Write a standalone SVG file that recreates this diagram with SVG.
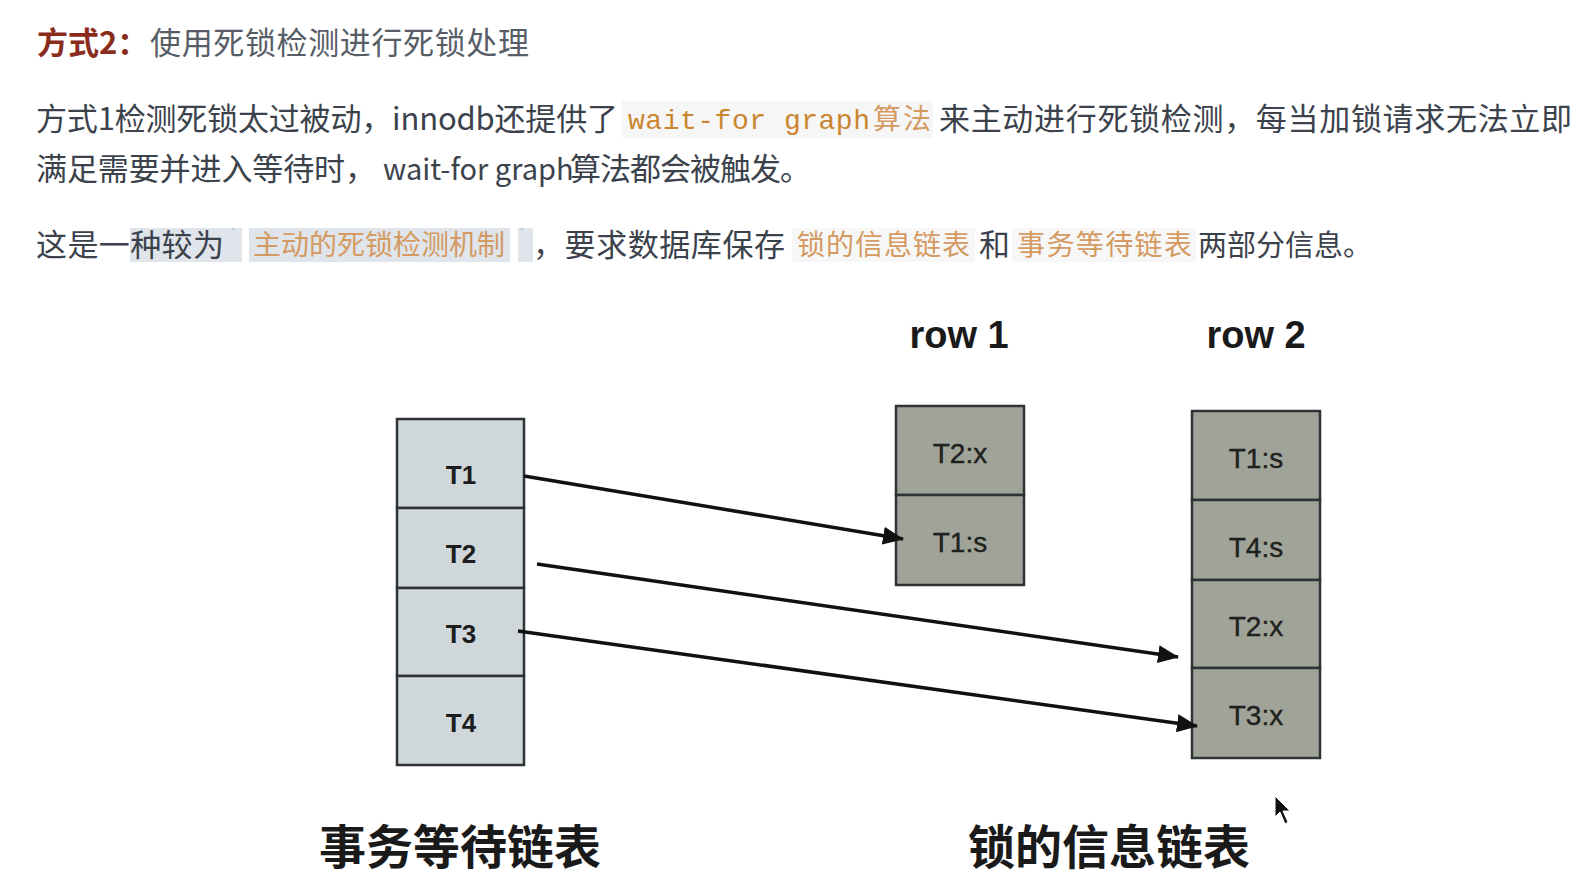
<svg xmlns="http://www.w3.org/2000/svg" width="1595" height="889" viewBox="0 0 1595 889">
<style>
.body{font-family:"Noto Sans CJK SC","Noto Sans",sans-serif;font-size:31px;fill:#3b424c}
.or{font-family:"Noto Sans CJK SC",sans-serif;font-size:28px;fill:#d49a62}
.code{font-family:"Liberation Mono","DejaVu Sans Mono",monospace;font-size:28px;fill:#c9852f}
.tick{font-family:"Liberation Mono",monospace;font-size:16px;fill:#aab0b6}
.cell-l{fill:#cfd7db;stroke:#2f3335;stroke-width:2.5}
.cell-r{fill:#a0a498;stroke:#2f3335;stroke-width:2.5}
.lab-l{font-family:"Liberation Sans",Arial,sans-serif;font-weight:bold;font-size:26px;fill:#1c1c1c;text-anchor:middle}
.lab-r{font-family:"Liberation Sans",Arial,sans-serif;font-size:28px;fill:#1e211d;stroke:#1e211d;stroke-width:0.4;text-anchor:middle}
.row{font-family:"Liberation Sans",Arial,sans-serif;font-weight:bold;font-size:38px;fill:#1a1a1a;text-anchor:middle}
.cap{font-family:"Noto Sans CJK SC",sans-serif;font-weight:bold;font-size:47px;fill:#1a1a1a;text-anchor:middle}
.conn{stroke:#111;stroke-width:3.5;fill:none}
</style>
<defs>
<marker id="ah" markerUnits="userSpaceOnUse" markerWidth="24" markerHeight="18" refX="20" refY="9" orient="auto">
<path d="M0,0 L21,9 L0,18 Z" fill="#111"/>
</marker>
</defs>
<rect width="1595" height="889" fill="#ffffff"/>

<g id="heading">
<text x="37" y="54" style="font-family:'Noto Sans CJK SC',sans-serif;font-size:31px;font-weight:bold;fill:#8a2c1c">方式2：</text>
<text x="150" y="54" style="font-family:'Noto Sans CJK SC',sans-serif;font-size:31px;fill:#575d66" textLength="379" lengthAdjust="spacing">使用死锁检测进行死锁处理</text>
</g>

<g id="para1">
<rect x="622" y="101" width="311" height="37" fill="#f6f6f6"/>
<text class="body" x="36" y="130" textLength="582" lengthAdjust="spacing">方式1检测死锁太过被动，innodb还提供了</text>
<text class="code" x="628" y="129" textLength="242" lengthAdjust="spacing">wait-for graph</text>
<text class="or" x="873" y="129" textLength="58" lengthAdjust="spacing">算法</text>
<text class="body" x="939" y="130" textLength="633" lengthAdjust="spacing">来主动进行死锁检测，每当加锁请求无法立即</text>
<text class="body" x="36" y="180" textLength="340" lengthAdjust="spacing">满足需要并进入等待时，</text>
<text class="body" x="383" y="180" style="font-size:29px">wait-for graph</text>
<text class="body" x="570" y="180" textLength="241" lengthAdjust="spacing">算法都会被触发。</text>
</g>

<g id="para2">
<rect x="130" y="228" width="112" height="34" fill="#dfe5ea"/>
<rect x="249" y="228" width="261" height="34" fill="#dfe5ea"/>
<rect x="518" y="228" width="15" height="34" fill="#dfe5ea"/>
<rect x="792" y="228" width="183" height="34" fill="#f7f7f7"/>
<rect x="1012" y="228" width="184" height="34" fill="#f7f7f7"/>
<text class="body" x="36" y="256" textLength="188" lengthAdjust="spacing">这是一种较为</text>
<text class="tick" x="228" y="240">`</text>
<text class="or" x="253" y="255" textLength="252" lengthAdjust="spacing">主动的死锁检测机制</text>
<text class="tick" x="517" y="240">`</text>
<text class="body" x="533" y="256" textLength="252" lengthAdjust="spacing">，要求数据库保存</text>
<text class="or" x="797" y="255" textLength="173" lengthAdjust="spacing">锁的信息链表</text>
<text class="body" x="979" y="256">和</text>
<text class="or" x="1017" y="255" textLength="175" lengthAdjust="spacing">事务等待链表</text>
<text class="body" x="1198" y="256" style="font-size:29px">两部分信息。</text>
</g>

<g id="txn-list">
<rect class="cell-l" x="397" y="419" width="127" height="89"/>
<rect class="cell-l" x="397" y="508" width="127" height="80"/>
<rect class="cell-l" x="397" y="588" width="127" height="88"/>
<rect class="cell-l" x="397" y="676" width="127" height="89"/>
<text class="lab-l" x="461" y="484">T1</text>
<text class="lab-l" x="461" y="563">T2</text>
<text class="lab-l" x="461" y="643">T3</text>
<text class="lab-l" x="461" y="732">T4</text>
</g>

<g id="row1">
<text class="row" x="959" y="348">row 1</text>
<rect class="cell-r" x="896" y="406" width="128" height="89"/>
<rect class="cell-r" x="896" y="495" width="128" height="90"/>
<text class="lab-r" x="960" y="463">T2:x</text>
<text class="lab-r" x="960" y="552">T1:s</text>
</g>

<g id="row2">
<text class="row" x="1256" y="348">row 2</text>
<rect class="cell-r" x="1192" y="411" width="128" height="89"/>
<rect class="cell-r" x="1192" y="500" width="128" height="80"/>
<rect class="cell-r" x="1192" y="580" width="128" height="88"/>
<rect class="cell-r" x="1192" y="668" width="128" height="90"/>
<text class="lab-r" x="1256" y="468">T1:s</text>
<text class="lab-r" x="1256" y="557">T4:s</text>
<text class="lab-r" x="1256" y="636">T2:x</text>
<text class="lab-r" x="1256" y="725">T3:x</text>
</g>

<g id="connectors">
<line class="conn" x1="524" y1="476" x2="903" y2="539" marker-end="url(#ah)"/>
<line class="conn" x1="537" y1="564" x2="1178" y2="657" marker-end="url(#ah)"/>
<line class="conn" x1="518" y1="631" x2="1197" y2="726" marker-end="url(#ah)"/>
</g>

<g id="captions">
<text class="cap" x="460" y="864">事务等待链表</text>
<text class="cap" x="1109" y="864">锁的信息链表</text>
</g>

<g id="cursor">
<path d="M1275,796 L1275,817 L1280,812 L1285,824 L1288,822 L1283,811 L1290,811 Z" fill="#111" stroke="#fff" stroke-width="1"/>
</g>
</svg>
